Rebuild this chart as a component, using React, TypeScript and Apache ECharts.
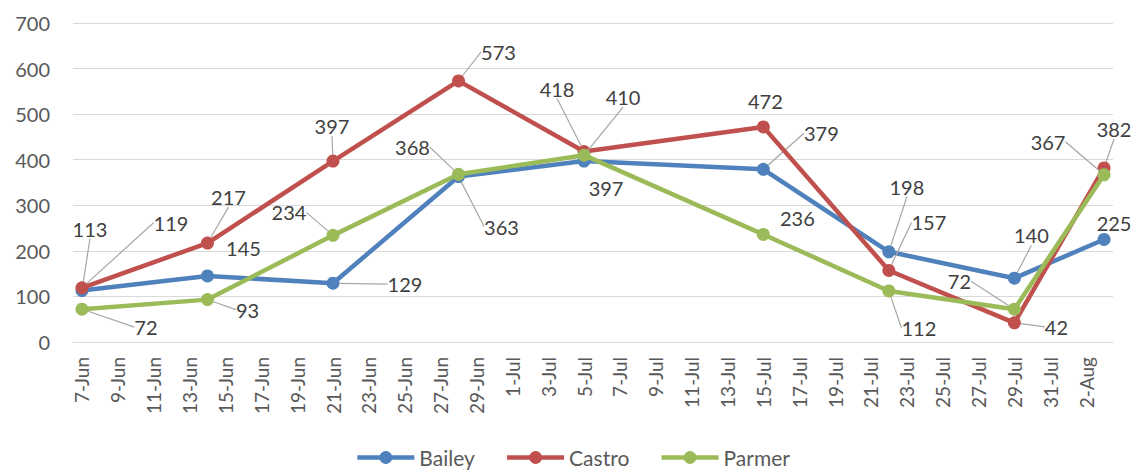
import React, { useEffect, useRef } from 'react';
import * as echarts from 'echarts';

// ---- data ----
const MONTH_RANGES: [string, number, number][] = [
  ['Jun', 7, 30],
  ['Jul', 1, 31],
  ['Aug', 1, 3],
];
const DAYS: string[] = [];
MONTH_RANGES.forEach(([m, a, b]) => {
  for (let d = a; d <= b; d++) DAYS.push(`${d}-${m}`);
});

const POINT_DATES = ['7-Jun', '14-Jun', '21-Jun', '28-Jun', '5-Jul', '15-Jul', '22-Jul', '29-Jul', '3-Aug'];
const SERIES_NAMES = ['Bailey', 'Castro', 'Parmer'];
const BAILEY = [113, 145, 129, 363, 397, 379, 198, 140, 225];
const CASTRO = [119, 217, 397, 573, 418, 472, 157, 42, 382];
const PARMER = [72, 93, 234, 368, 410, 236, 112, 72, 367];
const Y_MIN = 0;
const Y_MAX = 700;
const Y_STEP = 100;

// ---- styles ----
const COLORS = ['#4f81bd', '#c0504d', '#9bbb59'];
// label offsets from point centre [dx, dy, showLeader]
const LABEL_OFFSETS: [number, number, boolean][][] = [
  [[8, -62, true], [36, -28, false], [72, 1, true], [43, 50, true], [22, 27, false], [58, -36, true], [18, -65, true], [17, -43, true], [10, -16, false]],
  [[89, -65, true], [21, -46, true], [-1, -35, true], [40, -29, true], [-27, -63, true], [2, -26, false], [40, -48, true], [42, 4, true], [10, -39, true]],
  [[64, 18, true], [40, 10, true], [-44, -23, true], [-46, -27, true], [39, -58, true], [34, -16, false], [30, 37, true], [-55, -28, true], [-56, -33, true]],
];

const FONT = 'Lato, "Noto Sans", sans-serif';

function buildSeries(values: number[], s: number) {
  return DAYS.map((d) => {
    const i = POINT_DATES.indexOf(d);
    if (i < 0) return null;
    return { value: values[i], labelLine: { show: LABEL_OFFSETS[s][i][2] } };
  });
}

export default function App() {
  const ref = useRef<HTMLDivElement>(null);
  useEffect(() => {
    if (!ref.current) return;
    const chart = echarts.init(ref.current, undefined, { renderer: 'svg' });
    const all = [BAILEY, CASTRO, PARMER];
    chart.setOption({
      animation: false,
      grid: { left: 73, right: 32, top: 23, bottom: 130, containLabel: false },
      legend: {
        top: 442,
        left: 'center',
        itemWidth: 57,
        itemHeight: 16,
        itemGap: 30,
        lineStyle: { width: 4.5 },
        textStyle: { fontFamily: FONT, fontSize: 21, color: '#595959' },
        data: SERIES_NAMES,
      },
      xAxis: {
        type: 'category',
        data: DAYS,
        boundaryGap: true,
        axisTick: { show: false },
        axisLine: { lineStyle: { color: '#d9d9d9', width: 1 } },
        axisLabel: {
          interval: 1,
          rotate: 90,
          margin: 15,
          fontFamily: FONT,
          fontSize: 19,
          color: '#595959',
        },
        splitLine: { show: false },
      },
      yAxis: {
        type: 'value',
        min: Y_MIN,
        max: Y_MAX,
        interval: Y_STEP,
        axisLine: { show: false },
        axisTick: { show: false },
        axisLabel: { margin: 23, fontFamily: FONT, fontSize: 20, color: '#595959' },
        splitLine: { lineStyle: { color: '#d9d9d9', width: 1 } },
      },
      series: all.map((vals, s) => ({
        name: SERIES_NAMES[s],
        type: 'line',
        data: buildSeries(vals, s),
        connectNulls: true,
        showAllSymbol: true,
        symbol: 'circle',
        symbolSize: 13,
        lineStyle: { width: 4.5, color: COLORS[s] },
        itemStyle: { color: COLORS[s] },
        label: {
          show: true,
          position: 'inside',
          fontFamily: FONT,
          fontSize: 20,
          color: '#404040',
        },
        labelLine: {
          show: true,
          lineStyle: { color: '#a6a6a6', width: 1.2 },
        },
        labelLayout: (params: any) => {
          const i = POINT_DATES.indexOf(DAYS[params.dataIndex]);
          if (i < 0) return {};
          const [dx, dy] = LABEL_OFFSETS[s][i];
          return { dx, dy };
        },
        z: 2 + s,
      })),
    });
    return () => chart.dispose();
  }, []);
  return (
    <div
      ref={ref}
      style={{ position: 'absolute', left: 0, top: 0, width: 1145, height: 472 }}
    />
  );
}
